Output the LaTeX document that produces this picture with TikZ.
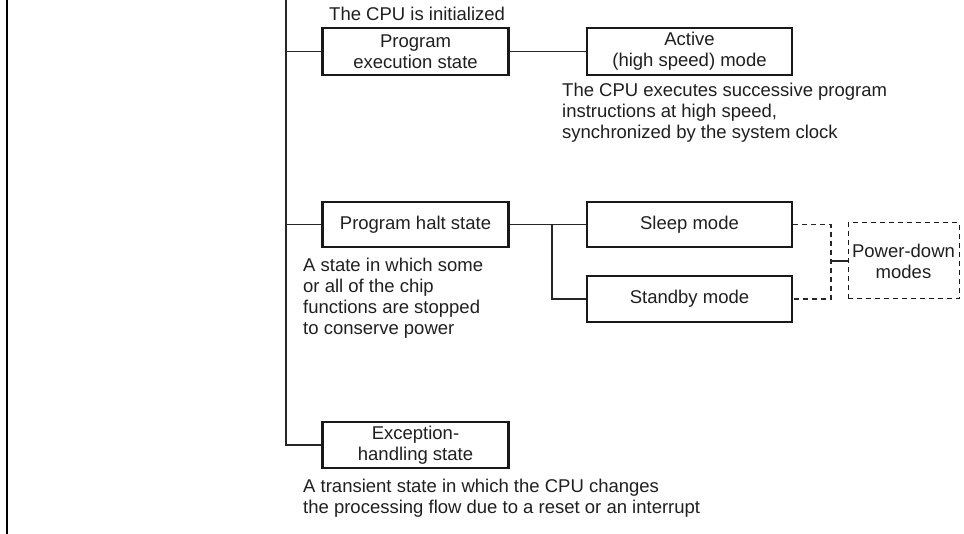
\documentclass[tikz,border=0pt]{standalone}
\usepackage{fontspec}
\setmainfont{Liberation Sans}
\begin{document}
\begin{tikzpicture}[x=1pt,y=-1pt,
  txt/.style={font=\fontsize{18.5}{21}\selectfont, text=black!88, inner sep=0pt},
  statebox/.style={txt, draw=black!90, line width=2.3pt, minimum width=186pt, align=center},
  pdbox/.style={txt, draw=black!90, line width=1pt, dashed, dash pattern=on 5pt off 4pt, minimum width=111pt, minimum height=76pt, align=center},
  desc/.style={txt, anchor=west, align=left},
  conn/.style={draw=black!85, line width=1.1pt},
  dconn/.style={draw=black!85, line width=1.1pt, dash pattern=on 5pt off 4pt}
]
\useasboundingbox (0,0) rectangle (964,534);
% left border
\draw[line width=2.8pt] (7,0) -- (7,534);

% nodes
\node[statebox, minimum height=47pt] (exec) at (415.5,51.5) {Program\\execution state};
\node[statebox, minimum width=205pt, minimum height=47pt] (active) at (689.5,51.5) {Active\\(high speed) mode};
\node[statebox, minimum height=45pt] (halt) at (415.5,224.5) {Program halt state};
\node[statebox, minimum width=205pt, minimum height=45pt] (sleep) at (689.5,224.5) {Sleep mode};
\node[statebox, minimum width=205pt, minimum height=46pt] (standby) at (689.5,299) {Standby mode};
\node[pdbox] (pd) at (903.5,261) {Power-down\\modes};
\node[statebox, minimum height=46pt] (exc) at (415.5,445) {Exception-\\handling state};

% texts
\node[desc] (tinit) at (329,14) {The CPU is initialized};
\node[desc] (tactive) at (562,113) {The CPU executes successive program\\instructions at high speed,\\synchronized by the system clock};
\node[desc] (thalt) at (303,298.5) {A state in which some\\or all of the chip\\functions are stopped\\to conserve power};
\node[desc] (texc) at (303,498) {A transient state in which the CPU changes\\the processing flow due to a reset or an interrupt};

% connectors
\coordinate (top) at (286,0);
\coordinate (br) at (552,224.5);
\coordinate (dj) at (831,261);
\draw[conn] (top) |- (exc.west);
\draw[conn] (286,51.5) -- (exec.west);
\draw[conn] (286,224.5) -- (halt.west);
\draw[conn] (exec.east) -- (active.west);
\draw[conn] (halt.east) -- (sleep.west);
\draw[conn] (br) |- (standby.west);
\draw[dconn] (sleep.east) -| (dj) |- (standby.east);
\draw[conn] (dj) -- (pd.west);
\end{tikzpicture}
\end{document}
